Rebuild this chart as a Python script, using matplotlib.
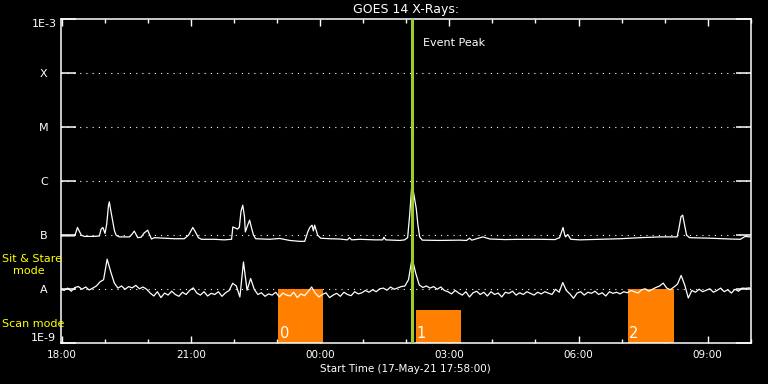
import numpy as np
import matplotlib
matplotlib.use("Agg")
import matplotlib.pyplot as plt
from matplotlib.ticker import FixedLocator, MultipleLocator, NullLocator

# time in hours after 18:00 on 17-May-21 (start of plot 17:58)
t_start = -2 / 60
t_end = 16.0

# GOES long channel (1-8 A), flux in units of 1e-7 W/m2
long_t = [-0.03, 0.29, 0.32, 0.36, 0.40, 0.45, 0.52, 0.75, 0.87, 0.91,
          0.95, 1.00, 1.04, 1.08, 1.10, 1.13, 1.18, 1.22, 1.26, 1.33,
          1.57, 1.63, 1.68, 1.73, 1.76, 1.84, 1.91, 1.99, 2.03, 2.08,
          2.15, 2.38, 2.61, 2.84, 2.94, 3.04, 3.10, 3.17, 3.24, 3.54,
          3.77, 3.94, 3.97, 4.08, 4.12, 4.16, 4.20, 4.24, 4.26, 4.31,
          4.36, 4.40, 4.45, 4.50, 4.82, 5.06, 5.29, 5.52, 5.64, 5.71,
          5.76, 5.81, 5.84, 5.87, 5.94, 6.01, 6.22, 6.45, 6.63, 6.68,
          6.73, 6.92, 7.27, 7.45, 7.48, 7.52, 7.85, 7.96, 8.03, 8.08,
          8.13, 8.17, 8.23, 8.27, 8.31, 8.37, 8.77, 9.24, 9.40, 9.47,
          9.52, 9.78, 9.94, 10.29, 10.63, 11.10, 11.45, 11.56, 11.64, 11.68,
          11.70, 11.75, 11.82, 12.03, 12.49, 12.96, 13.43, 13.90, 14.29, 14.33,
          14.38, 14.42, 14.46, 14.51, 14.58, 15.05, 15.52, 15.76, 15.87, 15.98]
long_flux = [0.97, 0.97, 1.10, 1.39, 1.20, 1.00, 0.95, 0.95, 0.97, 1.30,
             1.39, 1.08, 1.60, 3.50, 4.14, 3.00, 1.80, 1.20, 1.00, 0.93,
             0.93, 1.05, 1.19, 1.00, 0.90, 0.92, 1.10, 1.24, 1.05, 0.85,
             0.90, 0.88, 0.86, 0.86, 1.00, 1.39, 1.15, 0.90, 0.84, 0.84,
             0.82, 0.84, 1.42, 1.30, 1.40, 2.80, 3.59, 2.20, 1.15, 1.50,
             1.90, 1.40, 1.00, 0.86, 0.84, 0.87, 0.80, 0.77, 0.77, 1.15,
             1.40, 1.53, 1.20, 1.53, 1.00, 0.88, 0.86, 0.85, 0.82, 0.90,
             0.82, 0.84, 0.82, 0.82, 0.92, 0.82, 0.80, 0.82, 0.90, 2.50,
             9.20, 6.00, 3.12, 1.53, 0.93, 0.81, 0.80, 0.81, 0.80, 0.88,
             0.81, 0.93, 0.85, 0.83, 0.84, 0.84, 0.83, 0.90, 1.39, 1.00,
             0.93, 1.03, 0.84, 0.82, 0.84, 0.86, 0.90, 0.93, 0.93, 1.30,
             2.20, 2.35, 1.60, 1.00, 0.90, 0.88, 0.85, 0.84, 0.95, 0.93]

# GOES short channel (0.5-4 A), 5 minute samples from 17:58, units of 1e-8 W/m2
short_flux = [
    1.00, 0.95, 1.05, 0.92, 1.08, 1.12, 1.00, 1.10, 0.97, 1.05, 1.15, 1.37,
    1.50, 3.60, 2.10, 1.30, 1.05, 1.15, 1.00, 1.12, 1.06, 1.18, 1.02, 1.10,
    1.00, 0.85, 0.75, 0.90, 0.70, 0.85, 0.78, 0.92, 0.80, 0.74, 0.88, 0.80,
    0.95, 1.06, 0.85, 0.78, 0.90, 0.75, 0.84, 0.80, 0.90, 0.74, 0.86, 0.95,
    1.29, 1.15, 0.72, 3.20, 0.96, 1.58, 1.00, 0.80, 0.86, 0.74, 0.82, 0.78,
    0.88, 0.72, 0.85, 0.78, 0.75, 0.88, 0.70, 0.82, 0.76, 0.90, 1.10, 0.85,
    0.72, 0.80, 0.86, 0.70, 0.78, 0.84, 0.74, 0.88, 0.80, 0.76, 0.90, 0.82,
    0.86, 0.95, 0.88, 0.98, 0.90, 1.02, 1.05, 0.96, 1.10, 1.00, 1.06, 1.12,
    1.15, 1.50, 3.75, 2.00, 1.20, 1.08, 1.15, 1.05, 1.12, 1.00, 1.10, 0.95,
    0.90, 0.82, 0.95, 0.85, 0.78, 0.90, 0.72, 0.86, 0.92, 0.80, 0.88, 0.75,
    0.90, 0.80, 0.85, 0.72, 0.88, 0.84, 0.92, 0.78, 0.86, 0.80, 0.90, 0.84,
    0.78, 0.88, 0.82, 0.90, 0.85, 0.80, 1.00, 0.88, 1.33, 0.95, 0.82, 0.68,
    0.85, 0.90, 0.78, 0.88, 0.84, 0.92, 0.80, 0.86, 0.75, 0.90, 0.84, 0.88,
    0.82, 0.90, 0.86, 0.95, 0.90, 0.85, 0.98, 1.02, 0.92, 1.00, 1.08, 1.15,
    1.30, 1.05, 0.98, 1.10, 1.25, 1.80, 1.20, 0.69, 0.95, 0.88, 1.00, 0.90,
    0.96, 1.02, 0.88, 0.95, 1.05, 0.90, 0.98, 0.85, 1.00, 0.92, 1.05, 1.04,
    1.06]
short_t = t_start + np.arange(len(short_flux)) * 5 / 60

# flare classes on the y axis
class_levels = [1e-9, 1e-8, 1e-7, 1e-6, 1e-5, 1e-4, 1e-3]
class_labels = ["1E-9", "A", "B", "C", "M", "X", "1E-3"]

# x axis ticks
hour_ticks = [0, 3, 6, 9, 12, 15]
hour_labels = ["18:00", "21:00", "00:00", "03:00", "06:00", "09:00"]

# raster scans (orange blocks)
scan_start = [5.03, 8.22, 13.15]
scan_end = [6.07, 9.26, 14.21]
scan_top = [1e-8, 4.1e-9, 1e-8]
scan_names = ["0", "1", "2"]

event_peak = 8.14

fig = plt.figure(figsize=(7.68, 3.84), dpi=100, facecolor="black")
ax = fig.add_axes([0.0788, 0.106, 0.8987, 0.8445], facecolor="black")
ax.set_yscale("log")
ax.set_xlim(t_start, t_end)
ax.set_ylim(1e-9, 1e-3)

# dotted class lines
for lev in class_levels[1:-1]:
    ax.axhline(lev, color="white", lw=0.8, linestyle=(0, (1, 4.6)), zorder=1)

# scan blocks
for s, e, top, name in zip(scan_start, scan_end, scan_top, scan_names):
    ax.bar(s, top - 1e-9, width=e - s, bottom=1e-9, align="edge",
           color="#ff8000", zorder=2)
    ax.annotate(name, xy=(s, 1e-9), xytext=(0.8, 3.6), textcoords="offset points",
                ha="left", va="baseline", color="white", fontsize=10.5, zorder=6)

ax.plot(long_t, np.array(long_flux) * 1e-7, color="white", lw=0.9, zorder=3)
ax.plot(short_t, np.array(short_flux) * 1e-8, color="white", lw=0.9, zorder=3)

ax.axvline(event_peak, color="#9acd32", lw=2.2, zorder=5)
ax.annotate("Event Peak", xy=(event_peak, 1), xycoords=("data", "axes fraction"),
            xytext=(7.5, -17.5), textcoords="offset points", ha="left", va="center",
            color="white", fontsize=8)

# axes style
for sp in ax.spines.values():
    sp.set_color("white")
    sp.set_linewidth(1.1)

ax.xaxis.set_major_locator(FixedLocator(hour_ticks))
ax.xaxis.set_minor_locator(MultipleLocator(1))
ax.set_xticklabels(hour_labels)
ax.tick_params(axis="x", which="major", direction="in", length=5, width=1,
               top=True, colors="white", labelsize=7.5, pad=5)
ax.tick_params(axis="x", which="minor", direction="in", length=3, width=1,
               top=True, colors="white")

ax.yaxis.set_major_locator(FixedLocator(class_levels))
ax.yaxis.set_minor_locator(NullLocator())
ax.set_yticklabels(class_labels)
ax.tick_params(axis="y", which="major", direction="in", length=10.5, width=1.1,
               right=True, colors="white", labelsize=8, pad=12)
for lbl in ax.get_yticklabels():
    lbl.set_horizontalalignment("center")
ylbls = ax.get_yticklabels()
ylbls[0].set_verticalalignment("bottom")
ylbls[-1].set_verticalalignment("top")

ax.set_title("GOES 14 X-Rays:", color="white", fontsize=9, pad=4)
ax.set_xlabel("Start Time (17-May-21 17:58:00)", color="white", fontsize=7.5, labelpad=3)

# mode labels on the left
fig.text(2 / 768, 1 - 259 / 384, "Sit & Stare", color="yellow", fontsize=8, va="center", ha="left")
fig.text(12.7 / 768, 1 - 271 / 384, "mode", color="yellow", fontsize=8, va="center", ha="left")
fig.text(2 / 768, 1 - 324 / 384, "Scan mode", color="yellow", fontsize=8, va="center", ha="left")

fig.savefig("out.png", dpi=100, facecolor="black")
